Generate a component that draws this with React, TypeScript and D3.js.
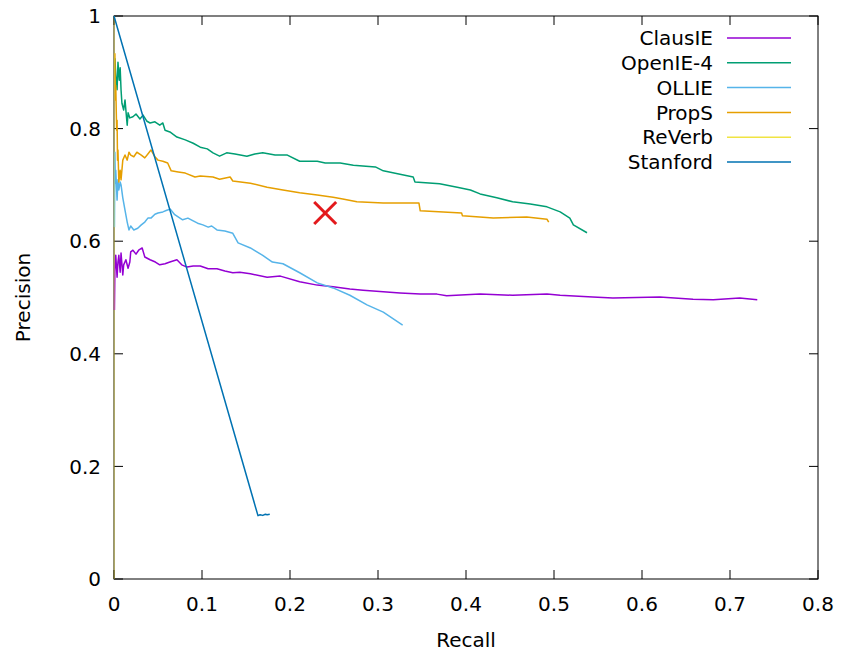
import React from 'react';
import * as d3 from 'd3';

// [recall, precision] pairs
const clausIE: [number, number][] = [
  [0.0005, 0.478], [0.001, 0.549], [0.002, 0.575], [0.0035, 0.536], [0.0045, 0.563],
  [0.0055, 0.575], [0.007, 0.545], [0.008, 0.579], [0.010, 0.540], [0.011, 0.558],
  [0.0135, 0.567], [0.016, 0.552], [0.018, 0.563], [0.019, 0.581], [0.0215, 0.584],
  [0.025, 0.577], [0.028, 0.584], [0.032, 0.588], [0.035, 0.572], [0.041, 0.567],
  [0.047, 0.563], [0.052, 0.558], [0.058, 0.560], [0.0635, 0.563], [0.0715, 0.567],
  [0.077, 0.558], [0.083, 0.554], [0.090, 0.556], [0.098, 0.556], [0.107, 0.551],
  [0.117, 0.551], [0.126, 0.547], [0.135, 0.544], [0.143, 0.545], [0.155, 0.542],
  [0.174, 0.536], [0.189, 0.538], [0.211, 0.528], [0.231, 0.522], [0.249, 0.519],
  [0.268, 0.515], [0.283, 0.513], [0.306, 0.510], [0.325, 0.508], [0.348, 0.506],
  [0.367, 0.506], [0.378, 0.503], [0.416, 0.506], [0.453, 0.504], [0.492, 0.506],
  [0.507, 0.504], [0.544, 0.501], [0.567, 0.499], [0.620, 0.501], [0.658, 0.497],
  [0.681, 0.496], [0.711, 0.499], [0.731, 0.496],
];

const openIE4: [number, number][] = [
  [0.001, 0.925], [0.002, 0.895], [0.0035, 0.869], [0.0045, 0.918], [0.006, 0.886],
  [0.007, 0.908], [0.008, 0.869], [0.009, 0.845], [0.011, 0.833], [0.0125, 0.851],
  [0.015, 0.806], [0.016, 0.828], [0.018, 0.819], [0.0215, 0.821], [0.025, 0.826],
  [0.0295, 0.817], [0.033, 0.824], [0.0375, 0.813], [0.041, 0.810], [0.0465, 0.812],
  [0.052, 0.806], [0.0555, 0.810], [0.058, 0.797], [0.0635, 0.794], [0.0715, 0.785],
  [0.081, 0.780], [0.090, 0.774], [0.098, 0.767], [0.106, 0.764], [0.1125, 0.757],
  [0.120, 0.751], [0.128, 0.757], [0.1375, 0.755], [0.151, 0.751], [0.160, 0.755],
  [0.169, 0.757], [0.183, 0.753], [0.197, 0.753], [0.211, 0.742], [0.231, 0.742],
  [0.240, 0.739], [0.257, 0.739], [0.272, 0.735], [0.297, 0.732], [0.306, 0.725],
  [0.325, 0.719], [0.340, 0.714], [0.342, 0.705], [0.370, 0.702], [0.390, 0.696],
  [0.405, 0.691], [0.416, 0.684], [0.435, 0.677], [0.453, 0.670], [0.473, 0.666],
  [0.492, 0.661], [0.507, 0.652], [0.518, 0.641], [0.522, 0.629], [0.5375, 0.615],
];

const ollie: [number, number][] = [
  [0.0005, 0.625], [0.001, 0.758], [0.0015, 0.703], [0.002, 0.726], [0.0035, 0.673],
  [0.0045, 0.709], [0.0055, 0.691], [0.007, 0.705], [0.008, 0.700], [0.010, 0.677],
  [0.0125, 0.655], [0.015, 0.634], [0.017, 0.620], [0.019, 0.627], [0.0225, 0.620],
  [0.027, 0.623], [0.031, 0.629], [0.035, 0.634], [0.0385, 0.641], [0.042, 0.641],
  [0.0465, 0.648], [0.050, 0.650], [0.0555, 0.652], [0.060, 0.655], [0.064, 0.657],
  [0.069, 0.647], [0.078, 0.638], [0.084, 0.641], [0.090, 0.636], [0.095, 0.632],
  [0.101, 0.629], [0.107, 0.625], [0.111, 0.627], [0.117, 0.620], [0.126, 0.618],
  [0.135, 0.614], [0.141, 0.597], [0.155, 0.588], [0.169, 0.575], [0.180, 0.563],
  [0.192, 0.560], [0.211, 0.544], [0.231, 0.526], [0.249, 0.517], [0.268, 0.504],
  [0.2875, 0.487], [0.306, 0.474], [0.328, 0.451],
];

const propS: [number, number][] = [
  [0.001, 0.934], [0.0015, 0.851], [0.002, 0.877], [0.003, 0.797], [0.0035, 0.815],
  [0.004, 0.744], [0.0045, 0.762], [0.0055, 0.705], [0.007, 0.726], [0.008, 0.709],
  [0.010, 0.744], [0.0125, 0.753], [0.015, 0.744], [0.017, 0.758], [0.019, 0.753],
  [0.0225, 0.750], [0.026, 0.758], [0.031, 0.753], [0.035, 0.748], [0.0385, 0.755],
  [0.042, 0.762], [0.0465, 0.750], [0.050, 0.744], [0.0555, 0.742], [0.061, 0.739],
  [0.065, 0.725], [0.073, 0.723], [0.081, 0.721], [0.092, 0.714], [0.098, 0.716],
  [0.1125, 0.714], [0.120, 0.710], [0.132, 0.714], [0.135, 0.707], [0.155, 0.703],
  [0.174, 0.696], [0.192, 0.691], [0.211, 0.686], [0.231, 0.682], [0.249, 0.678],
  [0.260, 0.675], [0.276, 0.670], [0.306, 0.668], [0.325, 0.668], [0.3465, 0.668],
  [0.348, 0.654], [0.395, 0.650], [0.396, 0.645], [0.431, 0.641], [0.469, 0.643],
  [0.492, 0.639], [0.494, 0.634],
];

const reVerb: [number, number][] = [
  [0.0003, 0.0], [0.0003, 0.47], [0.0003, 1.0],
];

const stanford: [number, number][] = [
  [0.0, 1.0], [0.1636, 0.1125], [0.166, 0.114], [0.169, 0.113], [0.172, 0.115],
  [0.174, 0.114], [0.177, 0.115],
];

const seriesNames = ['ClausIE', 'OpenIE-4', 'OLLIE', 'PropS', 'ReVerb', 'Stanford'];
const seriesData = [clausIE, openIE4, ollie, propS, reVerb, stanford];
const seriesColors = ['#9400d3', '#009e73', '#56b4e9', '#e69f00', '#f0e442', '#0072b2'];

const markPoint: [number, number] = [0.24, 0.65];

const xTicks = [0, 0.1, 0.2, 0.3, 0.4, 0.5, 0.6, 0.7, 0.8];
const yTicks = [0, 0.2, 0.4, 0.6, 0.8, 1];

const W = 841, H = 652;
const left = 114, right = 818, top = 16, bottom = 579;
const font = "'DejaVu Sans', sans-serif";

export default function App() {
  const x = d3.scaleLinear().domain([0, 0.8]).range([left, right]);
  const y = d3.scaleLinear().domain([0, 1]).range([bottom, top]);
  const line = d3.line<[number, number]>().x(d => x(d[0])).y(d => y(d[1]));
  const fmt = (v: number) => String(+v.toFixed(1));
  const tick = 9;

  return (
    <svg width={W} height={H} style={{ position: 'absolute', left: 0, top: 0, background: '#fff' }}
      fontFamily={font}>
      {/* ticks */}
      {xTicks.map(t => (
        <g key={'x' + t}>
          <line x1={x(t)} x2={x(t)} y1={bottom} y2={bottom - tick} stroke="#000" />
          <line x1={x(t)} x2={x(t)} y1={top} y2={top + tick} stroke="#000" />
          <text x={x(t)} y={611} fontSize={20} textAnchor="middle">{fmt(t)}</text>
        </g>
      ))}
      {yTicks.map(t => (
        <g key={'y' + t}>
          <line x1={left} x2={left + tick} y1={y(t)} y2={y(t)} stroke="#000" />
          <line x1={right} x2={right - tick} y1={y(t)} y2={y(t)} stroke="#000" />
          <text x={101} y={y(t)} dy="0.36em" fontSize={20} textAnchor="end">{fmt(t)}</text>
        </g>
      ))}
      <rect x={left} y={top} width={right - left} height={bottom - top} fill="none" stroke="#000" />

      {/* series */}
      {seriesData.map((d, i) => (
        <path key={seriesNames[i]} d={line(d) || ''} fill="none" stroke={seriesColors[i]}
          strokeWidth={1.5} strokeLinejoin="round"
          strokeOpacity={seriesNames[i] === 'ReVerb' ? 0.4 : 1} />
      ))}

      {/* marker */}
      <g stroke="#e3191c" strokeWidth={3}>
        <line x1={x(markPoint[0]) - 11} x2={x(markPoint[0]) + 11} y1={y(markPoint[1]) - 11} y2={y(markPoint[1]) + 11} />
        <line x1={x(markPoint[0]) - 11} x2={x(markPoint[0]) + 11} y1={y(markPoint[1]) + 11} y2={y(markPoint[1]) - 11} />
      </g>

      {/* legend */}
      {seriesNames.map((n, i) => (
        <g key={'leg' + n} transform={`translate(0,${38 + i * 24.8})`}>
          <text x={713} y={0} dy="0.36em" fontSize={20} textAnchor="end">{n}</text>
          <line x1={727} x2={791} y1={0} y2={0} stroke={seriesColors[i]} strokeWidth={1.5} />
        </g>
      ))}

      {/* axis titles */}
      <text x={(left + right) / 2} y={647} fontSize={20} textAnchor="middle">Recall</text>
      <text transform={`translate(30,${(top + bottom) / 2}) rotate(-90)`} fontSize={20} textAnchor="middle">Precision</text>
    </svg>
  );
}
